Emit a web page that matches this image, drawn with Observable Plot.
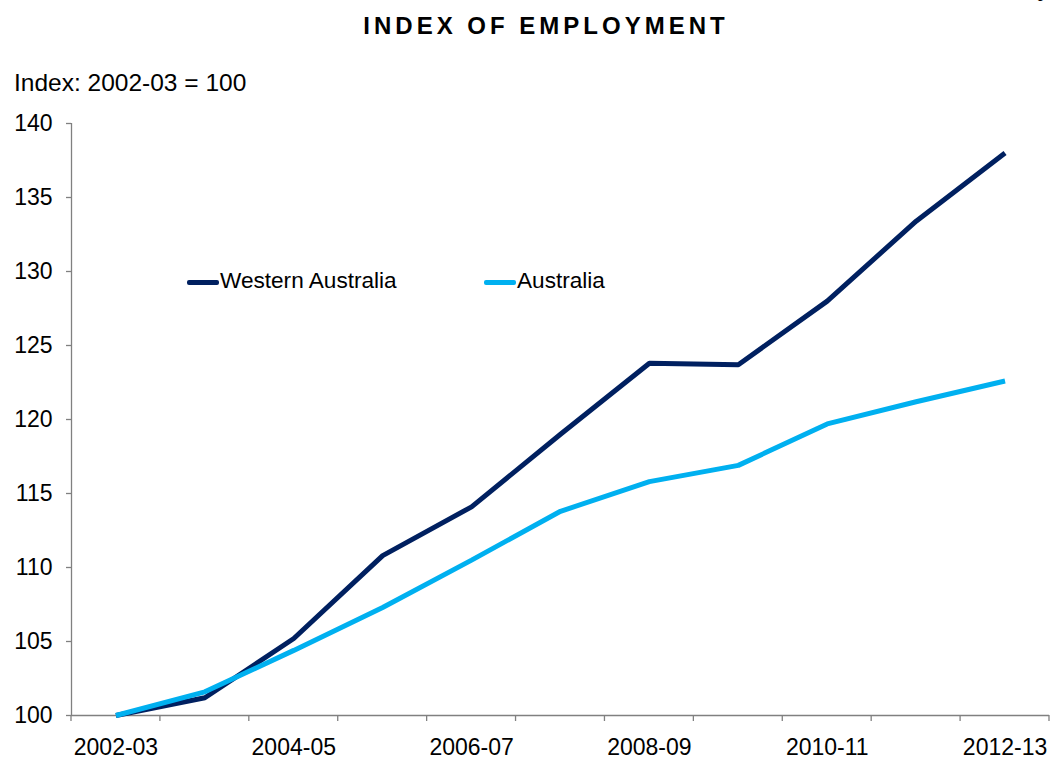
<!DOCTYPE html>
<html><head><meta charset="utf-8">
<script src="https://cdn.jsdelivr.net/npm/d3@7"></script>
<script src="https://cdn.jsdelivr.net/npm/@observablehq/plot@0.6"></script>
<style>
body{margin:0;background:#fff;font-family:"Liberation Sans",Arial,sans-serif;overflow:hidden;}
#wrap{position:relative;width:1051px;height:760px;overflow:hidden;}
.t{position:absolute;white-space:nowrap;color:#000;}
</style></head>
<body><div id="wrap"></div>
<script>
const years = ["2002-03","2003-04","2004-05","2005-06","2006-07","2007-08","2008-09","2009-10","2010-11","2011-12","2012-13"];
const westernAustralia = [100, 101.2, 105.2, 110.8, 114.1, 119.0, 123.8, 123.7, 128.0, 133.4, 138.0];
const australia = [100, 101.6, 104.4, 107.3, 110.5, 113.8, 115.8, 116.9, 119.7, 121.2, 122.6];
const yTicks = [100,105,110,115,120,125,130,135,140];
const seriesNames = ["Western Australia","Australia"];
const seriesColors = ["#002060","#00B0F0"];

const rows = [];
years.forEach((y,i)=>{
  rows.push({i, year:y, value:westernAustralia[i], series:seriesNames[0]});
  rows.push({i, year:y, value:australia[i], series:seriesNames[1]});
});
const boundaries = d3.range(years.length+1).map(k=>k-0.5);
const labelIdx = years.map((_,i)=>i).filter(i=>i%2===0);

const chart = Plot.plot({
  width:1051, height:760,
  marginLeft:71, marginRight:2, marginTop:123, marginBottom:45,
  style:{fontFamily:"'Liberation Sans', Arial, sans-serif", fontSize:"23px", color:"#000", background:"#fff", overflow:"visible"},
  x:{type:"linear", domain:[-0.5, years.length-0.5], label:null},
  y:{domain:[100,140], label:null},
  color:{domain:seriesNames, range:seriesColors},
  marks:[
    Plot.axisY({ticks:yTicks, tickSize:5, tickPadding:14, stroke:"#808080", strokeWidth:1.3, fill:"#000", fontSize:23, tickFormat:d=>String(d), label:null}),
    Plot.axisX({ticks:labelIdx, tickSize:0, tickPadding:23, tickFormat:i=>years[i], fill:"#000", fontSize:23, label:null}),
    Plot.ruleX([-0.5], {y1:100, y2:140, stroke:"#808080", strokeWidth:1.3}),
    Plot.ruleY([100], {x1:-0.5, x2:years.length-0.5, stroke:"#808080", strokeWidth:1.3}),
    Plot.line(rows, {x:"i", y:"value", z:"series", stroke:"series", strokeWidth:5, strokeLinejoin:"miter", strokeLinecap:"butt"})
  ]
});
document.getElementById("wrap").appendChild(chart);

// tick marks at category boundaries below the x-axis
const svg = d3.select(chart);
const xs = chart.scale("x"), ys = chart.scale("y");
svg.append("g").selectAll("line").data(boundaries).join("line")
  .attr("x1",d=>xs.apply(d)).attr("x2",d=>xs.apply(d))
  .attr("y1",ys.apply(100)).attr("y2",ys.apply(100)+6)
  .attr("stroke","#808080").attr("stroke-width",1.3);

const wrap = document.getElementById("wrap");
function addText(txt, css){const d=document.createElement("div");d.className="t";d.textContent=txt;Object.assign(d.style,css);wrap.appendChild(d);return d;}
addText("6",{left:"1036px",top:"-13px",fontSize:"15px"});
addText("INDEX OF EMPLOYMENT",{left:"0",width:"1092px",textAlign:"center",top:"12px",fontSize:"24px",fontWeight:"bold",letterSpacing:"4px"});
addText("Index: 2002-03 = 100",{left:"14px",top:"69px",fontSize:"24.5px"});
// legend
seriesNames.forEach((n,k)=>{
  const left = [187,484][k];
  const sw=document.createElement("div");
  Object.assign(sw.style,{position:"absolute",left:left+"px",top:"280px",width:"32px",height:"5px",background:seriesColors[k],borderRadius:"2px"});
  wrap.appendChild(sw);
  addText(n,{left:(left+33)+"px",top:"268px",fontSize:"22.6px"});
});
</script></body></html>
